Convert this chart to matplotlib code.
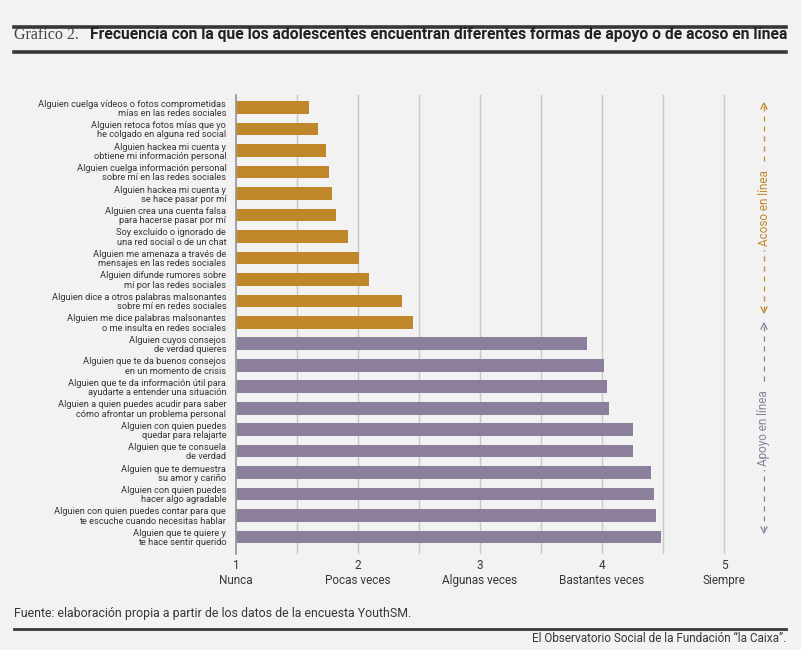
import matplotlib
matplotlib.use("Agg")
import matplotlib.pyplot as plt
from matplotlib.lines import Line2D
import numpy as np

acoso_labels = [
    "Alguien cuelga vídeos o fotos comprometidas\nmías en las redes sociales",
    "Alguien retoca fotos mías que yo\nhe colgado en alguna red social",
    "Alguien hackea mi cuenta y\nobtiene mi información personal",
    "Alguien cuelga información personal\nsobre mí en las redes sociales",
    "Alguien hackea mi cuenta y\nse hace pasar por mí",
    "Alguien crea una cuenta falsa\npara hacerse pasar por mí",
    "Soy excluido o ignorado de\nuna red social o de un chat",
    "Alguien me amenaza a través de\nmensajes en las redes sociales",
    "Alguien difunde rumores sobre\nmí por las redes sociales",
    "Alguien dice a otros palabras malsonantes\nsobre mí en redes sociales",
    "Alguien me dice palabras malsonantes\no me insulta en redes sociales",
]
acoso_values = [1.60, 1.67, 1.74, 1.76, 1.79, 1.82, 1.92, 2.01, 2.09, 2.36, 2.45]

apoyo_labels = [
    "Alguien cuyos consejos\nde verdad quieres",
    "Alguien que te da buenos consejos\nen un momento de crisis",
    "Alguien que te da información útil para\nayudarte a entender una situación",
    "Alguien a quien puedes acudir para saber\ncómo afrontar un problema personal",
    "Alguien con quien puedes\nquedar para relajarte",
    "Alguien que te consuela\nde verdad",
    "Alguien que te demuestra\nsu amor y cariño",
    "Alguien con quien puedes\nhacer algo agradable",
    "Alguien con quien puedes contar para que\nte escuche cuando necesitas hablar",
    "Alguien que te quiere y\nte hace sentir querido",
]
apoyo_values = [3.88, 4.02, 4.04, 4.055, 4.25, 4.25, 4.40, 4.43, 4.44, 4.48]

scale_ticks = [1, 2, 3, 4, 5]
scale_names = ["Nunca", "Pocas veces", "Algunas veces", "Bastantes veces", "Siempre"]

bg = "#f2f2f2"
orange = "#c0872a"
purple = "#8c7f9c"
dark = "#3a3636"
sans = ["Roboto", "DejaVu Sans"]

W, H = 801, 650
fig = plt.figure(figsize=(W / 100, H / 100), dpi=100, facecolor=bg)

# header rules and title
fig.add_artist(Line2D([14 / W, 786 / W], [1 - 27 / H] * 2, color=dark, lw=2.6))
fig.add_artist(Line2D([14 / W, 786 / W], [1 - 52 / H] * 2, color=dark, lw=2.6))
fig.text(14 / W, 1 - 35 / H, "Gráfico 2.", family=["Liberation Serif", "DejaVu Serif"],
         fontsize=11.5, color="#444", va="center", ha="left")
fig.text(90 / W, 1 - 35 / H,
         "Frecuencia con la que los adolescentes encuentran diferentes formas de apoyo o de acoso en línea",
         family=sans, fontweight="bold", fontsize=11.25, color="#222", va="center", ha="left")

# axes
x0, x1 = 236, 760.6
y0, y1 = 95, 553.7
ax = fig.add_axes([x0 / W, 1 - y1 / H, (x1 - x0) / W, (y1 - y0) / H])
ax.set_facecolor(bg)

labels = acoso_labels + apoyo_labels
values = acoso_values + apoyo_values
colors = [orange] * len(acoso_values) + [purple] * len(apoyo_values)
ypos = np.arange(len(labels))

for g in np.arange(1.5, 5.01, 0.5):
    ax.axvline(g, color="#c9c9c9", lw=1, zorder=0)
ax.barh(ypos, np.array(values) - 1, left=1, height=0.59, color=colors, zorder=2)

ax.set_xlim(1, 5.3)
ax.set_ylim(len(labels) - 1 + 0.78, -0.59)
ax.set_yticks(ypos)
ax.set_yticklabels(labels, family=sans, fontsize=6.7, color=dark, linespacing=1.05)
ax.set_xticks(scale_ticks)
ax.set_xticklabels([f"{t}\n{n}" for t, n in zip(scale_ticks, scale_names)],
                   family=sans, fontsize=8.5, color=dark, linespacing=1.15)
ax.tick_params(axis="both", length=0)
ax.tick_params(axis="y", pad=7)
ax.tick_params(axis="x", pad=4)
for s in ["top", "right", "bottom"]:
    ax.spines[s].set_visible(False)
ax.spines["left"].set_color("#9a9a9a")
ax.spines["left"].set_linewidth(1.3)

# group markers on the right
def group_arrow(ytop, ybot, text, col):
    xf = 764 / W
    fig.add_artist(Line2D([xf, xf], [1 - (ytop + 3) / H, 1 - (ybot - 3) / H],
                          color=col, lw=0.9, linestyle=(0, (4, 4))))
    for yy, d in [(ytop, 1), (ybot, -1)]:
        fig.add_artist(Line2D([xf - 3 / W, xf, xf + 3 / W],
                              [1 - (yy + d * 6) / H, 1 - yy / H, 1 - (yy + d * 6) / H],
                              color=col, lw=0.9))
    fig.text(xf, 1 - (ytop + ybot) / 2 / H, text, rotation=90, family=sans, fontsize=8.5,
             color=col, ha="center", va="center",
             bbox=dict(facecolor=bg, edgecolor="none", pad=3))

group_arrow(103, 313, "Acoso en línea", orange)
group_arrow(323, 533, "Apoyo en línea", purple)

# footer
fig.text(14 / W, 1 - 614 / H, "Fuente: elaboración propia a partir de los datos de la encuesta YouthSM.",
         family=sans, fontsize=8.9, color=dark, va="center", ha="left")
fig.add_artist(Line2D([14 / W, 786 / W], [1 - 629 / H] * 2, color=dark, lw=2))
fig.text(786 / W, 1 - 639 / H, "El Observatorio Social de la Fundación “la Caixa”.",
         family=sans, fontsize=8.5, color=dark, va="center", ha="right")

fig.savefig("out.png", dpi=100, facecolor=bg)
